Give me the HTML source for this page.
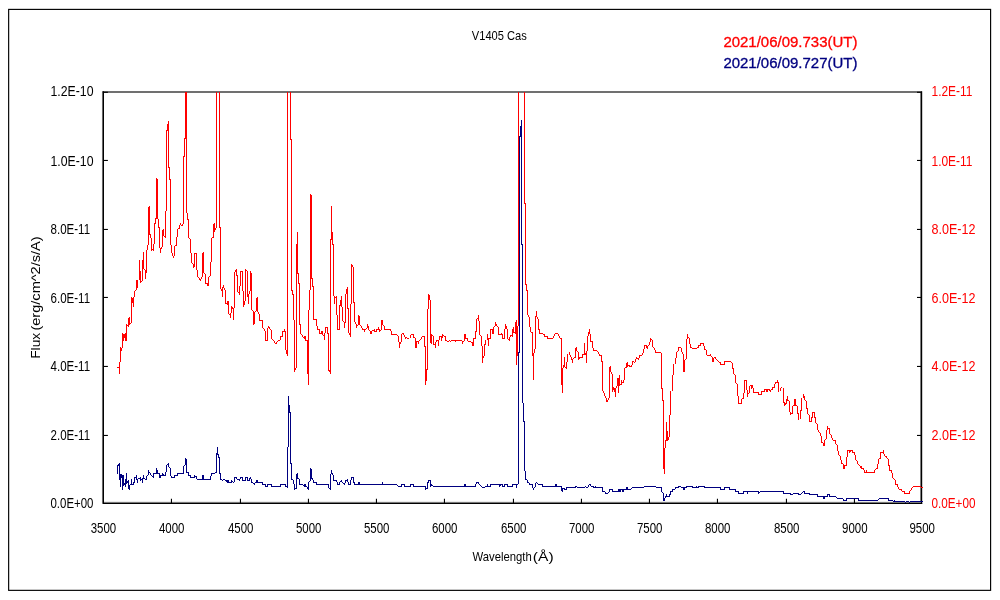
<!DOCTYPE html>
<html lang="en"><head><meta charset="utf-8"><title>V1405 Cas</title>
<style>
html,body{margin:0;padding:0;background:#fff;}
body{width:1000px;height:600px;overflow:hidden;font-family:"Liberation Sans",sans-serif;}
svg{display:block;}
text{font-family:"Liberation Sans",sans-serif;}
</style></head><body>
<svg width="1000" height="600" viewBox="0 0 1000 600">
<rect x="0" y="0" width="1000" height="600" fill="#fff"/>
<rect x="8.65" y="9.4" width="981.95" height="580.95" fill="none" stroke="#000" stroke-width="1.15"/>
<rect x="102.4" y="92" width="818.1" height="410.3" fill="#fff" stroke="#808080" stroke-width="0.9"/>
<line x1="102.5" y1="92" x2="921.5" y2="92" stroke="#707070" stroke-width="2"/>
<g stroke="#000" stroke-width="1.3" fill="none">
<line x1="103.35" y1="91.3" x2="103.35" y2="503.95"/>
<line x1="921.55" y1="91.3" x2="921.55" y2="503.95"/>
<line x1="102.7" y1="503.3" x2="922.2" y2="503.3" stroke-width="1.3"/>
</g>
<g stroke="#000" stroke-width="1.1">
<line x1="171.45" y1="498.8" x2="171.45" y2="503"/>
<line x1="240.45" y1="498.8" x2="240.45" y2="503"/>
<line x1="308.45" y1="498.8" x2="308.45" y2="503"/>
<line x1="376.45" y1="498.8" x2="376.45" y2="503"/>
<line x1="444.45" y1="498.8" x2="444.45" y2="503"/>
<line x1="513.45" y1="498.8" x2="513.45" y2="503"/>
<line x1="581.45" y1="498.8" x2="581.45" y2="503"/>
<line x1="649.45" y1="498.8" x2="649.45" y2="503"/>
<line x1="717.45" y1="498.8" x2="717.45" y2="503"/>
<line x1="786.45" y1="498.8" x2="786.45" y2="503"/>
<line x1="854.45" y1="498.8" x2="854.45" y2="503"/>
<line x1="103.4" y1="435.45" x2="107.9" y2="435.45"/>
<line x1="917" y1="435.45" x2="921.5" y2="435.45"/>
<line x1="103.4" y1="366.45" x2="107.9" y2="366.45"/>
<line x1="917" y1="366.45" x2="921.5" y2="366.45"/>
<line x1="103.4" y1="297.45" x2="107.9" y2="297.45"/>
<line x1="917" y1="297.45" x2="921.5" y2="297.45"/>
<line x1="103.4" y1="229.45" x2="107.9" y2="229.45"/>
<line x1="917" y1="229.45" x2="921.5" y2="229.45"/>
<line x1="103.4" y1="160.45" x2="107.9" y2="160.45"/>
<line x1="917" y1="160.45" x2="921.5" y2="160.45"/>
<line x1="103.4" y1="92.3" x2="107.9" y2="92.3"/>
<line x1="917" y1="92.3" x2="921.5" y2="92.3"/>
</g>
<g shape-rendering="crispEdges" stroke="none">
<path d="M119 362h1v12h-1zM120 347h1v15h-1zM121 348h1v3h-1zM122 333h1v15h-1zM123 334h1v7h-1zM124 334h1v4h-1zM125 333h1v8h-1zM126 324h1v17h-1zM128 318h1v9h-1zM129 317h1v8h-1zM131 297h1v26h-1zM132 298h1v5h-1zM133 297h1v10h-1zM134 291h1v6h-1zM136 280h1v10h-1zM137 280h1v8h-1zM139 260h1v20h-1zM140 271h1v12h-1zM142 260h1v21h-1zM143 252h1v17h-1zM145 270h1v9h-1zM146 250h1v23h-1zM147 245h1v5h-1zM148 207h1v38h-1zM149 206h1v29h-1zM150 234h1v4h-1zM151 238h1v13h-1zM153 244h1v7h-1zM154 223h1v21h-1zM155 218h1v6h-1zM156 178h1v41h-1zM157 179h1v40h-1zM158 219h1v9h-1zM159 227h1v21h-1zM160 248h1v5h-1zM161 247h1v2h-1zM162 230h1v17h-1zM163 229h1v7h-1zM165 211h1v27h-1zM166 130h1v81h-1zM167 124h1v7h-1zM168 121h1v47h-1zM169 167h1v13h-1zM170 179h1v66h-1zM171 245h1v8h-1zM172 253h1v3h-1zM173 256h1v2h-1zM174 246h1v10h-1zM176 237h1v9h-1zM177 229h1v8h-1zM179 225h1v4h-1zM180 223h1v2h-1zM182 224h1v2h-1zM183 156h1v68h-1zM184 138h1v19h-1zM185 92h1v47h-1zM186 92h1v121h-1zM187 213h1v7h-1zM188 219h1v19h-1zM190 239h1v14h-1zM191 253h1v10h-1zM193 264h1v4h-1zM194 253h1v14h-1zM196 253h1v17h-1zM197 270h1v7h-1zM199 278h1v2h-1zM200 279h1v2h-1zM201 277h1v2h-1zM202 253h1v24h-1zM203 252h1v21h-1zM205 274h1v10h-1zM207 283h1v3h-1zM208 277h1v9h-1zM210 262h1v14h-1zM211 238h1v24h-1zM213 224h1v14h-1zM214 223h1v9h-1zM215 228h1v2h-1zM216 92h1v136h-1zM219 92h1v136h-1zM220 227h1v62h-1zM221 289h1v2h-1zM222 287h1v10h-1zM223 285h1v3h-1zM224 288h1v2h-1zM225 290h1v14h-1zM227 301h1v4h-1zM228 301h1v13h-1zM230 313h1v5h-1zM231 306h1v7h-1zM232 307h1v2h-1zM233 308h1v12h-1zM234 272h1v36h-1zM235 270h1v2h-1zM236 269h1v7h-1zM237 275h1v17h-1zM239 286h1v9h-1zM240 271h1v15h-1zM242 271h1v20h-1zM243 291h1v16h-1zM244 301h1v4h-1zM245 269h1v32h-1zM247 271h1v26h-1zM248 294h1v10h-1zM249 291h1v3h-1zM250 271h1v20h-1zM251 273h1v37h-1zM253 311h1v14h-1zM254 312h1v12h-1zM256 298h1v13h-1zM257 297h1v15h-1zM258 312h1v2h-1zM259 314h1v7h-1zM262 320h1v8h-1zM264 329h1v2h-1zM265 331h1v10h-1zM267 328h1v13h-1zM268 326h1v2h-1zM269 327h1v2h-1zM271 330h1v9h-1zM274 341h1v2h-1zM276 342h1v2h-1zM280 336h1v4h-1zM282 331h1v6h-1zM284 329h1v3h-1zM285 331h1v19h-1zM286 350h1v4h-1zM287 92h1v264h-1zM290 92h1v48h-1zM291 139h1v152h-1zM292 290h1v5h-1zM293 294h1v26h-1zM294 320h1v52h-1zM295 368h1v2h-1zM296 244h1v124h-1zM297 232h1v42h-1zM298 273h1v11h-1zM299 283h1v42h-1zM300 324h1v10h-1zM302 335h1v2h-1zM304 336h1v3h-1zM305 336h1v5h-1zM307 340h1v34h-1zM308 310h1v75h-1zM309 290h1v20h-1zM310 194h1v96h-1zM311 195h1v84h-1zM312 278h1v9h-1zM313 286h1v34h-1zM316 319h1v7h-1zM317 326h1v4h-1zM319 329h1v5h-1zM321 331h1v3h-1zM322 331h1v4h-1zM324 333h1v7h-1zM325 327h1v6h-1zM327 327h1v7h-1zM328 333h1v38h-1zM329 370h1v2h-1zM330 239h1v135h-1zM331 206h1v34h-1zM332 232h1v13h-1zM333 244h1v52h-1zM334 296h1v8h-1zM336 296h1v19h-1zM337 315h1v15h-1zM339 305h1v25h-1zM340 300h1v6h-1zM341 296h1v11h-1zM342 307h1v14h-1zM344 322h1v6h-1zM345 294h1v29h-1zM346 289h1v5h-1zM347 287h1v22h-1zM348 308h1v25h-1zM349 333h1v2h-1zM350 304h1v33h-1zM351 264h1v40h-1zM352 265h1v2h-1zM353 267h1v36h-1zM354 302h1v20h-1zM355 322h1v2h-1zM356 324h1v4h-1zM358 315h1v10h-1zM359 316h1v9h-1zM361 326h1v2h-1zM362 328h1v2h-1zM364 329h1v3h-1zM367 324h1v4h-1zM368 326h1v4h-1zM370 331h1v3h-1zM371 331h1v3h-1zM374 329h1v3h-1zM376 329h1v3h-1zM378 327h1v3h-1zM379 329h1v3h-1zM381 320h1v10h-1zM382 320h1v5h-1zM384 326h1v4h-1zM390 329h1v2h-1zM391 331h1v4h-1zM398 336h1v6h-1zM399 342h1v6h-1zM400 342h1v2h-1zM401 334h1v8h-1zM403 333h1v2h-1zM404 335h1v2h-1zM405 337h1v2h-1zM410 335h1v3h-1zM413 334h1v4h-1zM415 338h1v10h-1zM416 341h1v7h-1zM418 341h1v3h-1zM421 337h1v2h-1zM424 336h1v11h-1zM425 346h1v39h-1zM426 369h1v12h-1zM427 309h1v61h-1zM428 294h1v15h-1zM429 295h1v5h-1zM430 300h1v43h-1zM431 334h1v10h-1zM433 336h1v9h-1zM435 342h1v6h-1zM436 340h1v2h-1zM438 340h1v6h-1zM439 336h1v4h-1zM441 336h1v5h-1zM442 334h1v4h-1zM445 336h1v5h-1zM455 340h1v2h-1zM462 341h1v3h-1zM464 334h1v7h-1zM465 334h1v5h-1zM467 338h1v3h-1zM472 342h1v4h-1zM473 338h1v8h-1zM475 331h1v8h-1zM476 319h1v13h-1zM478 315h1v6h-1zM479 321h1v14h-1zM481 336h1v10h-1zM482 346h1v17h-1zM483 356h1v2h-1zM484 344h1v12h-1zM485 340h1v5h-1zM487 334h1v6h-1zM488 338h1v8h-1zM490 329h1v10h-1zM492 329h1v5h-1zM493 327h1v7h-1zM495 322h1v4h-1zM496 324h1v2h-1zM498 327h1v8h-1zM501 333h1v2h-1zM502 334h1v5h-1zM504 329h1v10h-1zM505 324h1v5h-1zM506 326h1v3h-1zM507 329h1v10h-1zM509 337h1v4h-1zM510 335h1v2h-1zM512 329h1v8h-1zM513 327h1v6h-1zM515 322h1v12h-1zM516 320h1v45h-1zM517 326h1v30h-1zM518 92h1v234h-1zM524 92h1v112h-1zM525 203h1v82h-1zM526 284h1v7h-1zM527 290h1v25h-1zM528 315h1v2h-1zM529 317h1v10h-1zM530 327h1v5h-1zM532 332h1v24h-1zM533 353h1v27h-1zM534 349h1v4h-1zM535 316h1v33h-1zM536 311h1v6h-1zM537 317h1v2h-1zM538 319h1v11h-1zM539 329h1v5h-1zM544 334h1v3h-1zM547 336h1v3h-1zM553 336h1v2h-1zM554 334h1v2h-1zM558 334h1v2h-1zM559 336h1v2h-1zM561 338h1v47h-1zM562 368h1v25h-1zM563 365h1v3h-1zM564 357h1v10h-1zM566 362h1v7h-1zM567 354h1v8h-1zM569 352h1v3h-1zM570 355h1v2h-1zM571 357h1v3h-1zM572 359h1v4h-1zM575 348h1v10h-1zM576 347h1v4h-1zM578 352h1v8h-1zM579 357h1v2h-1zM582 354h1v4h-1zM584 343h1v12h-1zM585 353h1v2h-1zM586 351h1v12h-1zM587 336h1v15h-1zM588 332h1v4h-1zM589 329h1v5h-1zM590 334h1v8h-1zM592 341h1v7h-1zM593 348h1v3h-1zM598 352h1v2h-1zM599 354h1v2h-1zM601 355h1v7h-1zM602 361h1v30h-1zM603 391h1v2h-1zM604 393h1v3h-1zM605 396h1v2h-1zM606 398h1v4h-1zM607 400h1v2h-1zM608 398h1v2h-1zM609 367h1v31h-1zM610 366h1v6h-1zM611 372h1v2h-1zM612 374h1v18h-1zM613 387h1v3h-1zM614 388h1v4h-1zM615 388h1v9h-1zM616 386h1v2h-1zM617 378h1v8h-1zM618 378h1v15h-1zM619 375h1v11h-1zM621 380h1v5h-1zM623 380h1v3h-1zM624 368h1v12h-1zM626 363h1v5h-1zM627 362h1v5h-1zM629 365h1v2h-1zM631 365h1v2h-1zM632 361h1v4h-1zM635 359h1v3h-1zM636 357h1v2h-1zM638 358h1v2h-1zM639 355h1v3h-1zM642 353h1v2h-1zM643 349h1v4h-1zM644 345h1v4h-1zM646 345h1v3h-1zM647 346h1v3h-1zM649 342h1v3h-1zM650 338h1v4h-1zM652 340h1v7h-1zM654 348h1v2h-1zM655 350h1v3h-1zM661 353h1v36h-1zM662 388h1v13h-1zM663 400h1v69h-1zM664 448h1v26h-1zM665 440h1v8h-1zM666 422h1v19h-1zM667 431h1v10h-1zM668 437h1v3h-1zM669 415h1v22h-1zM670 391h1v24h-1zM672 375h1v16h-1zM673 364h1v11h-1zM675 358h1v6h-1zM676 352h1v6h-1zM678 347h1v4h-1zM681 348h1v4h-1zM682 352h1v2h-1zM683 354h1v18h-1zM684 360h1v12h-1zM686 339h1v20h-1zM687 334h1v5h-1zM689 338h1v6h-1zM690 344h1v4h-1zM698 345h1v3h-1zM700 343h1v3h-1zM703 343h1v3h-1zM704 346h1v4h-1zM706 350h1v5h-1zM710 354h1v2h-1zM712 357h1v5h-1zM713 358h1v4h-1zM715 357h1v2h-1zM720 362h1v3h-1zM724 361h1v4h-1zM732 363h1v6h-1zM733 368h1v6h-1zM735 375h1v8h-1zM737 384h1v12h-1zM738 396h1v8h-1zM741 399h1v5h-1zM743 393h1v6h-1zM744 380h1v13h-1zM746 380h1v10h-1zM747 390h1v7h-1zM749 386h1v7h-1zM751 385h1v4h-1zM752 385h1v3h-1zM753 388h1v5h-1zM758 392h1v3h-1zM761 391h1v4h-1zM764 389h1v3h-1zM766 389h1v3h-1zM767 389h1v3h-1zM769 389h1v2h-1zM770 390h1v2h-1zM772 387h1v3h-1zM774 384h1v4h-1zM775 382h1v2h-1zM777 380h1v3h-1zM778 382h1v10h-1zM780 388h1v3h-1zM783 388h1v15h-1zM784 402h1v4h-1zM785 403h1v2h-1zM786 399h1v5h-1zM787 396h1v5h-1zM789 401h1v11h-1zM790 412h1v3h-1zM792 406h1v8h-1zM794 399h1v7h-1zM795 399h1v7h-1zM797 406h1v8h-1zM798 413h1v7h-1zM800 410h1v9h-1zM801 398h1v13h-1zM803 394h1v4h-1zM804 396h1v4h-1zM806 401h1v8h-1zM807 408h1v6h-1zM809 415h1v7h-1zM811 417h1v5h-1zM812 412h1v6h-1zM814 412h1v6h-1zM815 417h1v6h-1zM817 424h1v6h-1zM818 430h1v2h-1zM820 433h1v3h-1zM821 436h1v7h-1zM823 443h1v3h-1zM824 440h1v6h-1zM826 430h1v9h-1zM827 426h1v4h-1zM829 428h1v6h-1zM831 435h1v3h-1zM832 438h1v2h-1zM835 440h1v4h-1zM837 445h1v6h-1zM838 451h1v4h-1zM840 456h1v4h-1zM841 460h1v4h-1zM843 464h1v5h-1zM844 465h1v4h-1zM846 457h1v9h-1zM847 450h1v7h-1zM849 450h1v3h-1zM850 450h1v2h-1zM852 450h1v3h-1zM854 452h1v3h-1zM855 455h1v5h-1zM857 461h1v3h-1zM860 466h1v2h-1zM861 466h1v3h-1zM863 468h1v2h-1zM864 470h1v3h-1zM866 470h1v3h-1zM874 470h1v3h-1zM877 464h1v5h-1zM878 459h1v5h-1zM880 452h1v7h-1zM883 450h1v4h-1zM884 454h1v2h-1zM886 456h1v2h-1zM888 459h1v7h-1zM889 465h1v6h-1zM891 470h1v3h-1zM892 473h1v5h-1zM895 480h1v5h-1zM897 484h1v3h-1zM898 487h1v2h-1zM901 489h1v2h-1zM904 491h1v3h-1zM909 491h1v3h-1zM911 488h1v2h-1zM181 225h1v1h-1zM178 228h1v1h-1zM164 236h1v1h-1zM212 237h1v1h-1zM189 238h1v1h-1zM175 245h1v1h-1zM152 249h1v1h-1zM195 253h1v1h-1zM192 263h1v1h-1zM144 269h1v1h-1zM246 270h1v1h-1zM241 271h1v1h-1zM204 273h1v1h-1zM209 276h1v1h-1zM198 277h1v1h-1zM141 281h1v1h-1zM206 283h1v1h-1zM135 290h1v1h-1zM238 292h1v1h-1zM335 297h1v1h-1zM226 303h1v1h-1zM252 310h1v1h-1zM255 311h1v1h-1zM229 314h1v1h-1zM477 318h1v1h-1zM314 319h2v1h-2zM260 320h2v1h-2zM343 321h1v1h-1zM130 323h1v1h-1zM127 325h1v1h-1zM357 325h1v1h-1zM360 325h1v1h-1zM383 325h1v1h-1zM494 326h1v1h-1zM497 326h1v1h-1zM326 327h1v1h-1zM263 328h1v1h-1zM366 328h1v1h-1zM270 329h1v1h-1zM318 329h1v1h-1zM338 329h1v1h-1zM363 329h1v1h-1zM365 329h1v1h-1zM377 329h1v1h-1zM385 329h5v1h-5zM491 329h1v1h-1zM369 330h1v1h-1zM372 330h2v1h-2zM380 330h1v1h-1zM283 331h1v1h-1zM375 331h1v1h-1zM514 332h1v1h-1zM531 332h1v1h-1zM320 333h1v1h-1zM402 333h1v1h-1zM540 333h3v1h-3zM555 333h3v1h-3zM301 334h1v1h-1zM392 334h5v1h-5zM411 334h2v1h-2zM499 334h2v1h-2zM543 334h1v1h-1zM323 335h1v1h-1zM397 335h1v1h-1zM432 335h1v1h-1zM443 335h1v1h-1zM480 335h1v1h-1zM511 335h1v1h-1zM281 336h1v1h-1zM422 336h2v1h-2zM440 336h1v1h-1zM444 336h1v1h-1zM545 336h2v1h-2zM303 337h1v1h-1zM406 337h1v1h-1zM414 337h1v1h-1zM688 337h1v1h-1zM407 338h2v1h-2zM466 338h1v1h-1zM474 338h1v1h-1zM489 338h1v1h-1zM503 338h1v1h-1zM548 338h5v1h-5zM560 338h1v1h-1zM272 339h1v1h-1zM420 339h1v1h-1zM508 339h1v1h-1zM651 339h1v1h-1zM266 340h1v1h-1zM273 340h1v1h-1zM278 340h2v1h-2zM306 340h1v1h-1zM419 340h1v1h-1zM437 340h1v1h-1zM446 340h1v1h-1zM449 340h1v1h-1zM451 340h4v1h-4zM456 340h6v1h-6zM277 341h1v1h-1zM417 341h1v1h-1zM447 341h2v1h-2zM450 341h1v1h-1zM463 341h1v1h-1zM468 341h3v1h-3zM591 341h1v1h-1zM471 342h1v1h-1zM275 343h1v1h-1zM701 343h2v1h-2zM434 344h1v1h-1zM645 345h1v1h-1zM648 345h1v1h-1zM699 345h1v1h-1zM653 347h1v1h-1zM679 347h2v1h-2zM691 347h1v1h-1zM697 347h1v1h-1zM692 348h5v1h-5zM705 349h1v1h-1zM594 350h3v1h-3zM577 351h1v1h-1zM597 351h1v1h-1zM677 351h1v1h-1zM656 352h5v1h-5zM583 354h1v1h-1zM600 355h1v1h-1zM640 355h2v1h-2zM707 355h3v1h-3zM711 356h1v1h-1zM574 357h1v1h-1zM580 357h2v1h-2zM714 357h1v1h-1zM573 358h1v1h-1zM637 358h1v1h-1zM685 359h1v1h-1zM716 359h1v1h-1zM717 360h1v1h-1zM633 361h1v1h-1zM718 361h1v1h-1zM725 361h6v1h-6zM634 362h1v1h-1zM719 362h1v1h-1zM731 362h1v1h-1zM721 364h3v1h-3zM628 365h1v1h-1zM630 366h1v1h-1zM117 367h2v1h-2zM565 367h1v1h-1zM625 367h1v1h-1zM734 374h1v1h-1zM745 380h1v1h-1zM622 382h1v1h-1zM776 382h1v1h-1zM736 383h1v1h-1zM620 384h1v1h-1zM750 385h1v1h-1zM773 387h1v1h-1zM781 387h1v1h-1zM765 389h1v1h-1zM768 389h1v1h-1zM771 389h1v1h-1zM762 391h2v1h-2zM754 392h4v1h-4zM748 393h1v1h-1zM759 394h2v1h-2zM742 398h1v1h-1zM788 400h1v1h-1zM805 400h1v1h-1zM739 403h2v1h-2zM793 405h1v1h-1zM796 405h1v1h-1zM813 412h1v1h-1zM791 413h1v1h-1zM808 414h1v1h-1zM810 421h1v1h-1zM816 423h1v1h-1zM828 428h1v1h-1zM819 432h1v1h-1zM830 434h1v1h-1zM825 439h1v1h-1zM833 440h2v1h-2zM822 442h1v1h-1zM836 444h1v1h-1zM848 450h1v1h-1zM851 450h1v1h-1zM853 452h1v1h-1zM881 452h2v1h-2zM839 455h1v1h-1zM885 456h1v1h-1zM879 458h1v1h-1zM887 458h1v1h-1zM856 460h1v1h-1zM842 463h1v1h-1zM858 464h1v1h-1zM845 465h1v1h-1zM859 465h1v1h-1zM862 468h1v1h-1zM876 468h1v1h-1zM875 469h1v1h-1zM890 470h1v1h-1zM865 472h1v1h-1zM867 472h7v1h-7zM893 478h1v1h-1zM894 479h1v1h-1zM896 484h1v1h-1zM913 486h8v1h-8zM912 487h1v1h-1zM921 487h2v1h-2zM899 489h2v1h-2zM910 490h1v1h-1zM902 491h2v1h-2zM905 493h4v1h-4z" fill="#ff0000"/>
<path d="M117 465h1v9h-1zM118 464h1v2h-1zM119 463h1v17h-1zM120 474h1v13h-1zM121 474h1v4h-1zM122 475h1v15h-1zM123 475h1v11h-1zM124 483h1v2h-1zM125 479h1v8h-1zM126 473h1v11h-1zM127 481h1v2h-1zM128 480h1v9h-1zM129 485h1v5h-1zM131 479h1v6h-1zM133 482h1v3h-1zM134 477h1v6h-1zM136 475h1v5h-1zM137 479h1v4h-1zM140 477h1v4h-1zM142 478h1v5h-1zM143 475h1v4h-1zM146 476h1v4h-1zM148 470h1v5h-1zM150 473h1v2h-1zM153 473h1v5h-1zM156 468h1v6h-1zM157 470h1v4h-1zM159 473h1v5h-1zM160 475h1v3h-1zM162 473h1v3h-1zM163 474h1v2h-1zM165 472h1v4h-1zM166 465h1v7h-1zM168 463h1v4h-1zM170 468h1v8h-1zM171 476h1v2h-1zM174 475h1v3h-1zM177 473h1v3h-1zM183 466h1v8h-1zM185 458h1v7h-1zM186 459h1v14h-1zM188 472h1v4h-1zM190 475h1v3h-1zM194 475h1v3h-1zM196 476h1v3h-1zM202 475h1v5h-1zM203 475h1v5h-1zM210 476h1v4h-1zM211 473h1v3h-1zM216 453h1v20h-1zM217 447h1v8h-1zM218 454h1v4h-1zM219 457h1v17h-1zM220 473h1v7h-1zM226 480h1v2h-1zM227 480h1v3h-1zM228 480h1v3h-1zM231 480h1v3h-1zM234 477h1v5h-1zM236 477h1v2h-1zM239 479h1v2h-1zM240 477h1v2h-1zM242 477h1v4h-1zM245 477h1v4h-1zM247 477h1v4h-1zM249 478h1v3h-1zM250 477h1v2h-1zM251 479h1v4h-1zM254 483h1v2h-1zM256 480h1v3h-1zM257 480h1v3h-1zM262 482h1v3h-1zM265 484h1v3h-1zM267 484h1v3h-1zM271 484h1v3h-1zM280 484h1v3h-1zM285 484h1v3h-1zM287 447h1v41h-1zM288 396h1v51h-1zM289 405h1v8h-1zM290 412h1v52h-1zM291 463h1v17h-1zM293 480h1v4h-1zM294 484h1v6h-1zM296 474h1v15h-1zM297 473h1v6h-1zM299 479h1v6h-1zM304 484h1v3h-1zM305 484h1v3h-1zM307 487h1v2h-1zM308 482h1v8h-1zM310 468h1v13h-1zM311 469h1v10h-1zM312 478h1v2h-1zM313 480h1v3h-1zM316 482h1v3h-1zM328 484h1v4h-1zM330 474h1v16h-1zM331 470h1v4h-1zM332 473h1v2h-1zM333 475h1v6h-1zM336 480h1v2h-1zM337 482h1v3h-1zM339 482h1v3h-1zM341 480h1v2h-1zM344 483h1v2h-1zM345 480h1v3h-1zM347 479h1v3h-1zM348 482h1v3h-1zM350 480h1v5h-1zM351 477h1v3h-1zM353 477h1v6h-1zM354 482h1v3h-1zM358 482h1v3h-1zM359 482h1v3h-1zM382 482h1v3h-1zM401 484h1v3h-1zM404 484h1v3h-1zM410 484h1v3h-1zM413 484h1v3h-1zM425 486h1v4h-1zM427 482h1v7h-1zM428 480h1v3h-1zM430 480h1v7h-1zM431 484h1v2h-1zM464 484h1v3h-1zM465 484h1v3h-1zM475 484h1v3h-1zM476 482h1v2h-1zM478 482h1v2h-1zM487 484h1v3h-1zM490 484h1v3h-1zM499 484h1v3h-1zM500 484h1v2h-1zM502 484h1v3h-1zM504 484h1v3h-1zM507 484h1v3h-1zM512 484h1v3h-1zM516 484h1v4h-1zM518 352h1v132h-1zM519 136h1v217h-1zM520 126h1v11h-1zM521 120h1v125h-1zM522 244h1v159h-1zM523 403h1v19h-1zM524 421h1v50h-1zM525 471h1v9h-1zM527 480h1v3h-1zM529 483h1v2h-1zM532 484h1v4h-1zM533 488h1v2h-1zM535 483h1v4h-1zM542 484h1v3h-1zM555 484h1v3h-1zM556 484h1v3h-1zM561 486h1v5h-1zM562 488h1v4h-1zM564 488h1v2h-1zM566 487h1v3h-1zM575 486h1v2h-1zM588 485h1v2h-1zM590 484h1v2h-1zM593 486h1v2h-1zM595 486h1v2h-1zM602 487h1v5h-1zM605 492h1v2h-1zM609 489h1v3h-1zM612 489h1v3h-1zM618 489h1v3h-1zM619 489h1v3h-1zM620 489h1v3h-1zM622 489h1v3h-1zM623 489h1v3h-1zM626 487h1v3h-1zM627 487h1v3h-1zM661 487h1v5h-1zM663 493h1v8h-1zM664 498h1v3h-1zM665 496h1v2h-1zM666 494h1v3h-1zM669 494h1v3h-1zM670 491h1v4h-1zM672 489h1v3h-1zM675 487h1v2h-1zM678 486h1v2h-1zM683 487h1v3h-1zM684 487h1v3h-1zM686 486h1v2h-1zM692 486h1v2h-1zM696 486h1v2h-1zM698 486h1v2h-1zM704 486h1v2h-1zM720 487h1v3h-1zM724 487h1v3h-1zM729 487h1v3h-1zM735 489h1v3h-1zM738 491h1v3h-1zM743 491h1v3h-1zM747 491h1v3h-1zM758 491h1v3h-1zM783 491h1v3h-1zM790 493h1v2h-1zM798 493h1v2h-1zM804 491h1v3h-1zM809 493h1v2h-1zM817 494h1v3h-1zM823 496h1v3h-1zM824 496h1v3h-1zM827 494h1v3h-1zM829 494h1v3h-1zM843 499h1v2h-1zM846 498h1v3h-1zM858 498h1v3h-1zM888 498h1v3h-1zM894 500h1v2h-1zM167 464h1v1h-1zM184 465h1v1h-1zM169 467h1v1h-1zM149 472h1v1h-1zM187 472h1v1h-1zM215 472h1v1h-1zM154 473h2v1h-2zM158 473h1v1h-1zM178 473h5v1h-5zM212 473h3v1h-3zM147 475h1v1h-1zM151 475h1v1h-1zM161 475h1v1h-1zM164 475h1v1h-1zM175 475h2v1h-2zM189 475h1v1h-1zM152 476h1v1h-1zM195 476h1v1h-1zM135 477h1v1h-1zM172 477h2v1h-2zM191 477h3v1h-3zM235 477h1v1h-1zM241 477h1v1h-1zM246 477h1v1h-1zM352 477h1v1h-1zM138 478h2v1h-2zM144 478h1v1h-1zM298 478h1v1h-1zM141 479h1v1h-1zM145 479h1v1h-1zM197 479h5v1h-5zM204 479h6v1h-6zM221 479h1v1h-1zM223 479h2v1h-2zM237 479h2v1h-2zM292 479h1v1h-1zM526 479h1v1h-1zM222 480h1v1h-1zM225 480h1v1h-1zM243 480h2v1h-2zM248 480h1v1h-1zM334 480h2v1h-2zM346 480h1v1h-1zM429 480h1v1h-1zM232 481h1v1h-1zM309 481h1v1h-1zM340 481h1v1h-1zM229 482h2v1h-2zM233 482h1v1h-1zM252 482h1v1h-1zM255 482h1v1h-1zM258 482h4v1h-4zM314 482h2v1h-2zM342 482h1v1h-1zM477 482h1v1h-1zM528 482h1v1h-1zM536 482h1v1h-1zM253 483h1v1h-1zM343 483h1v1h-1zM537 483h1v1h-1zM130 484h1v1h-1zM132 484h1v1h-1zM263 484h2v1h-2zM268 484h3v1h-3zM281 484h4v1h-4zM300 484h3v1h-3zM317 484h11v1h-11zM338 484h1v1h-1zM349 484h1v1h-1zM355 484h3v1h-3zM360 484h22v1h-22zM383 484h14v1h-14zM402 484h2v1h-2zM411 484h2v1h-2zM479 484h1v1h-1zM491 484h8v1h-8zM501 484h1v1h-1zM505 484h2v1h-2zM513 484h3v1h-3zM517 484h1v1h-1zM530 484h2v1h-2zM538 484h4v1h-4zM589 484h1v1h-1zM303 485h1v1h-1zM397 485h1v1h-1zM432 485h1v1h-1zM480 485h1v1h-1zM266 486h1v1h-1zM272 486h8v1h-8zM286 486h1v1h-1zM306 486h1v1h-1zM398 486h3v1h-3zM405 486h5v1h-5zM414 486h11v1h-11zM433 486h31v1h-31zM466 486h9v1h-9zM481 486h1v1h-1zM485 486h2v1h-2zM488 486h2v1h-2zM503 486h1v1h-1zM508 486h4v1h-4zM543 486h12v1h-12zM557 486h4v1h-4zM576 486h1v1h-1zM585 486h1v1h-1zM591 486h2v1h-2zM644 486h12v1h-12zM679 486h2v1h-2zM687 486h5v1h-5zM699 486h5v1h-5zM482 487h3v1h-3zM534 487h1v1h-1zM567 487h8v1h-8zM577 487h8v1h-8zM586 487h2v1h-2zM594 487h1v1h-1zM596 487h6v1h-6zM632 487h12v1h-12zM656 487h5v1h-5zM676 487h2v1h-2zM681 487h2v1h-2zM685 487h1v1h-1zM693 487h3v1h-3zM697 487h1v1h-1zM705 487h15v1h-15zM725 487h4v1h-4zM295 488h1v1h-1zM329 488h1v1h-1zM426 488h1v1h-1zM563 488h1v1h-1zM631 488h1v1h-1zM565 489h1v1h-1zM610 489h2v1h-2zM621 489h1v1h-1zM624 489h2v1h-2zM628 489h3v1h-3zM673 489h2v1h-2zM721 489h3v1h-3zM730 489h5v1h-5zM603 491h2v1h-2zM613 491h5v1h-5zM671 491h1v1h-1zM736 491h2v1h-2zM744 491h3v1h-3zM748 491h10v1h-10zM760 491h23v1h-23zM803 491h1v1h-1zM608 492h1v1h-1zM662 492h1v1h-1zM759 492h1v1h-1zM802 492h1v1h-1zM606 493h2v1h-2zM739 493h4v1h-4zM784 493h6v1h-6zM793 493h5v1h-5zM801 493h1v1h-1zM805 493h4v1h-4zM791 494h2v1h-2zM799 494h2v1h-2zM810 494h7v1h-7zM828 494h1v1h-1zM667 496h2v1h-2zM818 496h5v1h-5zM825 496h2v1h-2zM830 496h6v1h-6zM836 497h1v1h-1zM837 498h6v1h-6zM847 498h11v1h-11zM879 498h9v1h-9zM878 499h1v1h-1zM844 500h2v1h-2zM859 500h19v1h-19zM889 500h4v1h-4zM893 501h1v1h-1zM895 501h10v1h-10zM906 501h3v1h-3zM910 501h13v1h-13zM905 502h1v1h-1zM909 502h1v1h-1z" fill="#000080"/>
</g>
<g font-size="13.8" fill="#000">
<text x="103.5" y="533" text-anchor="middle" textLength="25.5" lengthAdjust="spacingAndGlyphs">3500</text>
<text x="171.7" y="533" text-anchor="middle" textLength="25.5" lengthAdjust="spacingAndGlyphs">4000</text>
<text x="240.7" y="533" text-anchor="middle" textLength="25.5" lengthAdjust="spacingAndGlyphs">4500</text>
<text x="308.7" y="533" text-anchor="middle" textLength="25.5" lengthAdjust="spacingAndGlyphs">5000</text>
<text x="376.7" y="533" text-anchor="middle" textLength="25.5" lengthAdjust="spacingAndGlyphs">5500</text>
<text x="444.7" y="533" text-anchor="middle" textLength="25.5" lengthAdjust="spacingAndGlyphs">6000</text>
<text x="513.7" y="533" text-anchor="middle" textLength="25.5" lengthAdjust="spacingAndGlyphs">6500</text>
<text x="581.7" y="533" text-anchor="middle" textLength="25.5" lengthAdjust="spacingAndGlyphs">7000</text>
<text x="649.7" y="533" text-anchor="middle" textLength="25.5" lengthAdjust="spacingAndGlyphs">7500</text>
<text x="717.7" y="533" text-anchor="middle" textLength="25.5" lengthAdjust="spacingAndGlyphs">8000</text>
<text x="786.7" y="533" text-anchor="middle" textLength="25.5" lengthAdjust="spacingAndGlyphs">8500</text>
<text x="854.8" y="533" text-anchor="middle" textLength="25.5" lengthAdjust="spacingAndGlyphs">9000</text>
<text x="922.2" y="533" text-anchor="middle" textLength="25.5" lengthAdjust="spacingAndGlyphs">9500</text>
<text x="93.5" y="508.1" text-anchor="end" textLength="43" lengthAdjust="spacingAndGlyphs">0.0E+00</text>
<text x="90.1" y="440.0" text-anchor="end" textLength="39.6" lengthAdjust="spacingAndGlyphs">2.0E-11</text>
<text x="90.1" y="371.1" text-anchor="end" textLength="39.6" lengthAdjust="spacingAndGlyphs">4.0E-11</text>
<text x="90.1" y="302.6" text-anchor="end" textLength="39.6" lengthAdjust="spacingAndGlyphs">6.0E-11</text>
<text x="90.1" y="234.1" text-anchor="end" textLength="39.6" lengthAdjust="spacingAndGlyphs">8.0E-11</text>
<text x="93.5" y="165.6" text-anchor="end" textLength="43" lengthAdjust="spacingAndGlyphs">1.0E-10</text>
<text x="93.5" y="96.3" text-anchor="end" textLength="43" lengthAdjust="spacingAndGlyphs">1.2E-10</text>
</g>
<g font-size="13.8" fill="#ff0000">
<text x="931.5" y="508.1" textLength="44" lengthAdjust="spacingAndGlyphs">0.0E+00</text>
<text x="931.5" y="440.0" textLength="44" lengthAdjust="spacingAndGlyphs">2.0E-12</text>
<text x="931.5" y="371.1" textLength="44" lengthAdjust="spacingAndGlyphs">4.0E-12</text>
<text x="931.5" y="302.6" textLength="44" lengthAdjust="spacingAndGlyphs">6.0E-12</text>
<text x="931.5" y="234.1" textLength="44" lengthAdjust="spacingAndGlyphs">8.0E-12</text>
<text x="931.5" y="165.6" textLength="41" lengthAdjust="spacingAndGlyphs">1.0E-11</text>
<text x="931.5" y="96.3" textLength="41" lengthAdjust="spacingAndGlyphs">1.2E-11</text>
</g>
<text x="471.8" y="39.8" font-size="13" fill="#000" textLength="55" lengthAdjust="spacingAndGlyphs">V1405 Cas</text>
<text x="723.4" y="46.5" font-size="14" fill="#ff0000" stroke="#ff0000" stroke-width="0.3" textLength="134" lengthAdjust="spacingAndGlyphs">2021/06/09.733(UT)</text>
<text x="723.4" y="67.6" font-size="14" fill="#000080" stroke="#000080" stroke-width="0.3" textLength="134" lengthAdjust="spacingAndGlyphs">2021/06/09.727(UT)</text>
<text y="560.5" font-size="13.5" fill="#000"><tspan x="472.5" textLength="59.3" lengthAdjust="spacingAndGlyphs">Wavelength</tspan><tspan x="532.8" textLength="20.8" lengthAdjust="spacingAndGlyphs">(Å)</tspan></text>
<text transform="translate(39.6 358.8) rotate(-90)" font-size="13.5" fill="#000"><tspan x="0" textLength="26" lengthAdjust="spacingAndGlyphs">Flux</tspan> <tspan x="28.2" textLength="94.3" lengthAdjust="spacingAndGlyphs">(erg/cm^2/s/A)</tspan></text>
</svg>
</body></html>
